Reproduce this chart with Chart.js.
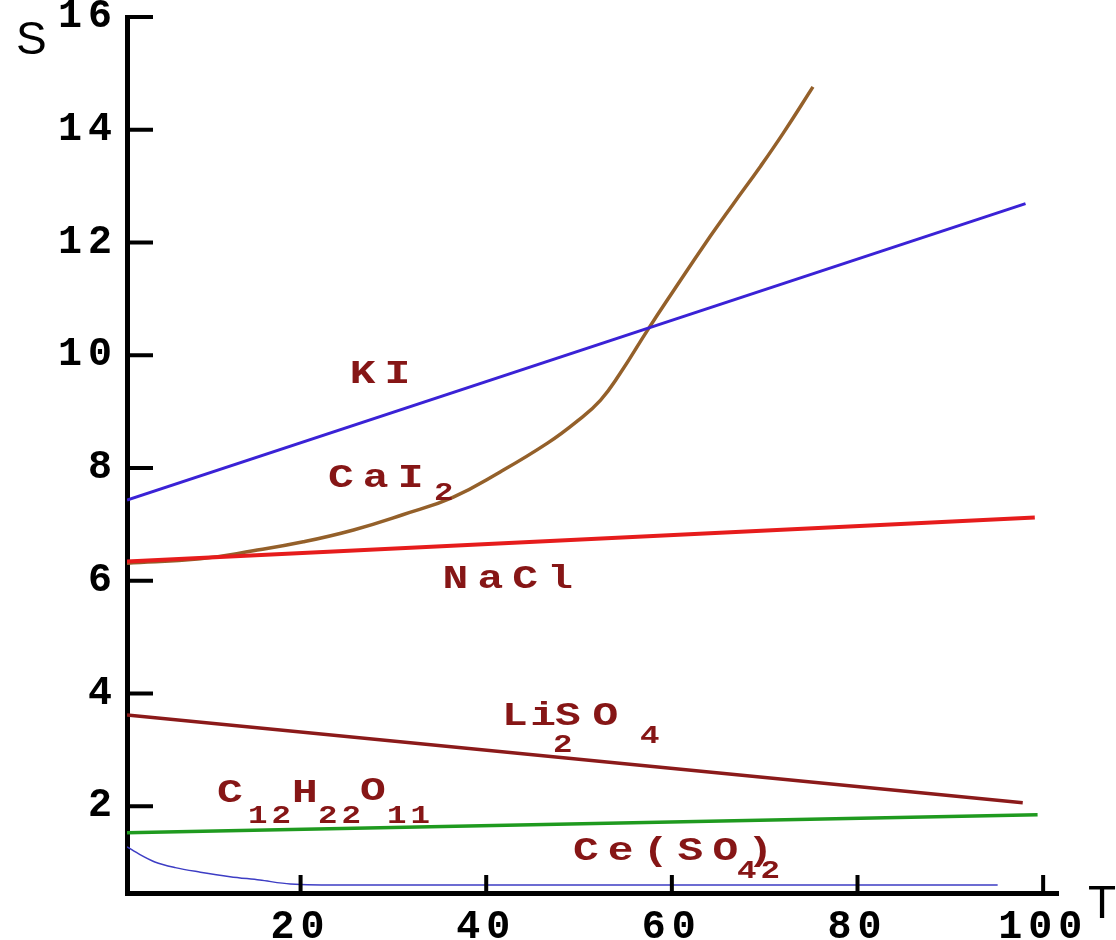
<!DOCTYPE html>
<html><head><meta charset="utf-8">
<script src="https://cdn.jsdelivr.net/npm/chart.js@4.4.1/dist/chart.umd.min.js"></script>
<style>html,body{margin:0;padding:0;background:#fff;}#wrap{width:1116px;height:940px;position:relative;}</style>
</head><body><div id="wrap"><canvas id="c" width="1116" height="940"></canvas></div>
<script>
// ---- data (T = temperature, S = solubility) ----
const xTickValues = [20, 40, 60, 80, 100];
const yTickValues = [2, 4, 6, 8, 10, 12, 14, 16];

const kiT = [1.3, 98.1];
const kiS = [7.43, 12.69];

const naclT = [1.3, 99.1];
const naclS = [6.34, 7.12];

const cai2T = [1.3, 9.2, 14.9, 20.3, 25.7, 31.0, 36.4, 41.5, 46.6, 49.8, 52.3, 54.4, 57.4, 59.8, 64.1, 66.6, 69.5, 72.0, 75.2];
const cai2S = [6.31, 6.39, 6.53, 6.69, 6.90, 7.17, 7.48, 7.93, 8.44, 8.83, 9.20, 9.67, 10.45, 11.05, 12.10, 12.68, 13.34, 13.94, 14.76];

const li2so4T = [1.3, 97.8];
const li2so4S = [3.62, 2.06];

const sucroseT = [1.3, 99.4];
const sucroseS = [1.53, 1.85];

const ceT = [1.3, 2.7, 4.3, 6.5, 9.2, 12.4, 15.6, 18.9, 25, 35, 45, 55, 65, 75, 85, 95.1];
const ceS = [1.28, 1.14, 1.01, 0.91, 0.83, 0.75, 0.69, 0.62, 0.60, 0.60, 0.60, 0.60, 0.60, 0.60, 0.60, 0.60];

// series label texts, anchored in data units; runs: [text, dx, dy, isSubscript, letterSpacing]
const seriesLabels = [
  {x: 25.3, y: 9.51, runs: [['KI', 0, 0, 0, 7]]},
  {x: 22.95, y: 7.66, runs: [['CaI', 0, 0, 0, 7], ['2', 106, 13, 1, 3]]},
  {x: 35.3, y: 5.87, runs: [['NaCl', 0, 0, 0, 7]]},
  {x: 41.7, y: 3.44, runs: [['Li', 0, 0, 0, 2], ['2', 51, 27, 1, 3], ['SO', 53, 0, 0, 9], ['4', 138, 18, 1, 3]]},
  {x: 11.0, y: 2.08, runs: [['C', 0, 0, 0, 7], ['12', 31, 21, 1, 3], ['H', 75, 0, 0, 7], ['22', 101, 21, 1, 3], ['O', 143, -2, 0, 7], ['11', 170, 21, 1, 3]]},
  {x: 49.35, y: 1.05, runs: [['Ce(SO)', 0, 0, 0, 7], ['42', 164, 18, 1, 3]]}
];

const pts = (xs, ys) => xs.map((x, i) => ({x: x, y: ys[i]}));
const labelColor = '#861616';

const decorPlugin = {
  id: 'decor',
  beforeDraw(chart) { chart.ctx.letterSpacing = '6px'; },
  afterDraw(chart) {
    const ctx = chart.ctx, xs = chart.scales.x, ys = chart.scales.y, ca = chart.chartArea;
    ctx.save();
    ctx.letterSpacing = '0px';
    ctx.strokeStyle = '#000';
    ctx.lineWidth = 4;
    ctx.beginPath();
    yTickValues.forEach(v => { const p = ys.getPixelForValue(v); ctx.moveTo(ca.left, p); ctx.lineTo(ca.left + 26, p); });
    xTickValues.forEach(v => { const p = xs.getPixelForValue(v); ctx.moveTo(p, ca.bottom); ctx.lineTo(p, ca.bottom - 18); });
    ctx.stroke();

    // axis titles
    ctx.fillStyle = '#000';
    ctx.font = '46px "Liberation Sans"';
    ctx.textBaseline = 'alphabetic';
    ctx.textAlign = 'left';
    ctx.fillText('S', 16, 54);
    ctx.fillText('T', 1088, 918);

    // series labels (wide bold slab letters)
    ctx.fillStyle = labelColor;
    seriesLabels.forEach(l => {
      const px = xs.getPixelForValue(l.x);
      const py = ys.getPixelForValue(l.y);
      l.runs.forEach(([t, dx, dy, sub, sp]) => {
        ctx.save();
        ctx.translate(px + dx, py + dy);
        ctx.scale(1.3, 1);
        ctx.font = sub ? 'bold 25px "Liberation Mono"' : 'bold 33px "Liberation Mono"';
        ctx.letterSpacing = sp + 'px';
        ctx.fillText(t, 0, 0);
        ctx.restore();
      });
    });
    ctx.restore();
  }
};

const ds = (label, data, color, width, mode, tension) => ({
  label, data, borderColor: color, backgroundColor: color, borderWidth: width,
  pointRadius: 0, fill: false, cubicInterpolationMode: mode, tension: tension
});

new Chart(document.getElementById('c'), {
  type: 'line',
  data: {
    datasets: [
      ds('KI', pts(kiT, kiS), '#3a22d6', 3, 'default', 0),
      ds('NaCl', pts(naclT, naclS), '#e61c1c', 4, 'default', 0),
      ds('CaI2', pts(cai2T, cai2S), '#94602a', 3.5, 'default', 0.45),
      ds('Li2SO4', pts(li2so4T, li2so4S), '#8b1a1a', 3.5, 'default', 0),
      ds('C12H22O11', pts(sucroseT, sucroseS), '#1f9a1f', 3.5, 'default', 0),
      ds('Ce(SO4)2', pts(ceT, ceS), '#3d3dc4', 1.5, 'monotone', 0)
    ]
  },
  options: {
    responsive: false,
    animation: false,
    layout: {padding: {top: 17, right: 58, left: 0, bottom: 0}},
    plugins: {legend: {display: false}, tooltip: {enabled: false}},
    scales: {
      x: {
        type: 'linear', min: 1.3, max: 101.6,
        grid: {display: false},
        border: {display: true, color: '#000', width: 5},
        afterBuildTicks: s => { s.ticks = xTickValues.map(v => ({value: v})); },
        afterFit: s => { s.height = 47; },
        ticks: {color: '#000', font: {family: 'Liberation Mono', weight: 'bold', size: 40}, padding: 3, maxRotation: 0, autoSkip: false}
      },
      y: {
        type: 'linear', min: 0.46, max: 16.0,
        grid: {display: false},
        border: {display: true, color: '#000', width: 5},
        afterBuildTicks: s => { s.ticks = yTickValues.map(v => ({value: v})); },
        afterFit: s => { s.width = 127; },
        ticks: {color: '#000', font: {family: 'Liberation Mono', weight: 'bold', size: 40, lineHeight: 0.6}, padding: 1, autoSkip: false}
      }
    }
  },
  plugins: [decorPlugin]
});
</script></body></html>
